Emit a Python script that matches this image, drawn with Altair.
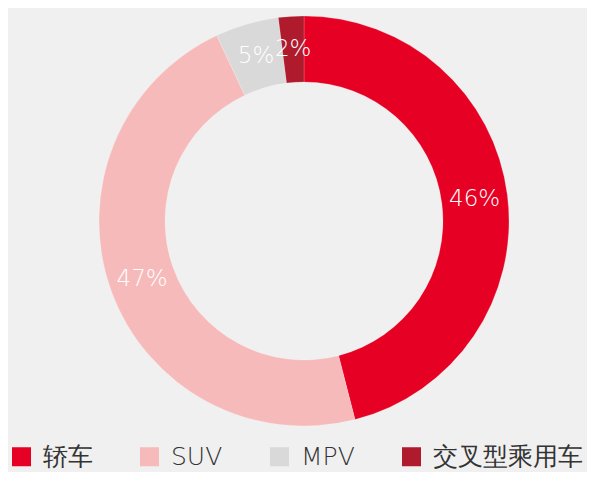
import altair as alt
import pandas as pd

categories = ["轿车", "SUV", "MPV", "交叉型乘用车"]
values = [46, 47, 5, 2]
labels = ["46%", "47%", "5%", "2%"]
colors = ["#E60023", "#F7BABA", "#D9D9D9", "#B01A2D"]

df = pd.DataFrame({"cat": categories, "value": values, "label": labels, "ord": list(range(len(categories)))})

cx, cy = 296, 213
font = "DejaVu Sans"

color = alt.Color(
    "cat:N",
    scale=alt.Scale(domain=categories, range=colors),
    sort=categories,
    legend=alt.Legend(
        title=None,
        orient="none",
        legendX=1,
        legendY=436,
        direction="horizontal",
        symbolType="square",
        symbolSize=361,
        symbolStrokeWidth=0,
        symbolOpacity=1,
        labelFont=font,
        labelFontWeight=200,
        labelFontSize=25,
        labelColor="#333333",
        labelOffset=9,
        columnPadding=44,
        labelLimit=300,
        padding=0,
    ),
)

base = alt.Chart(df).encode(
    theta=alt.Theta("value:Q", stack=True),
    order=alt.Order("ord:Q"),
)

arc = base.mark_arc(outerRadius=205, innerRadius=139, stroke="#ffffff", strokeWidth=0.3, strokeOpacity=0.6).encode(
    color=color,
    x=alt.value(cx),
    y=alt.value(cy),
)

text = base.mark_text(
    radius=172, font=font, fontWeight=200, fontSize=23, color="#ffffff"
).encode(
    text="label:N",
    x=alt.value(cx),
    y=alt.value(cy),
)

chart = (
    (arc + text)
    .properties(
        width=579,
        height=464,
        background="#F0F0F0",
        padding=0,
        autosize=alt.AutoSizeParams(type="fit", contains="padding"),
    )
    .configure_view(stroke=None)
)

chart.save("out.html", embed_options={"renderer": "svg", "actions": False})
